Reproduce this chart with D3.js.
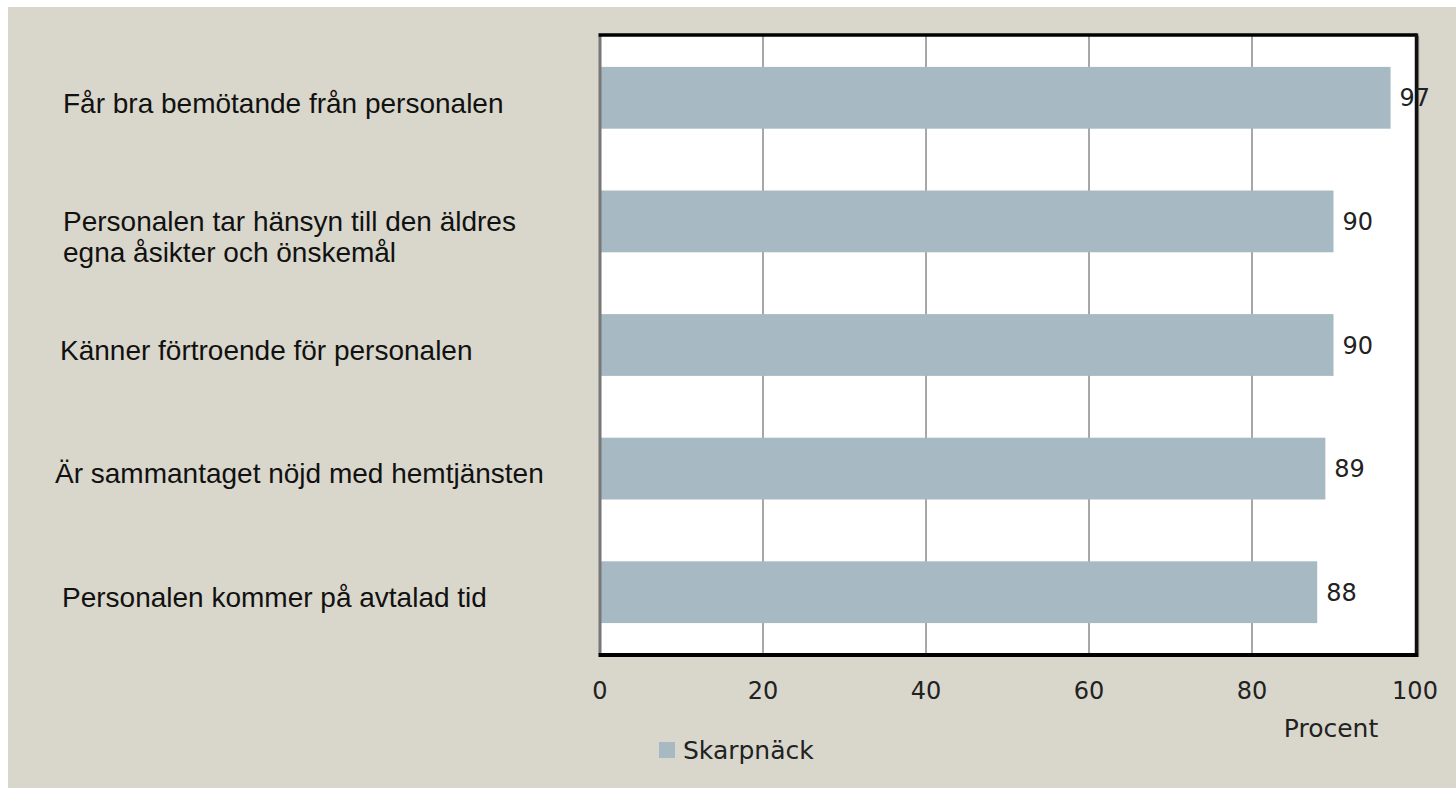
<!DOCTYPE html>
<html>
<head>
<meta charset="utf-8">
<script src="https://cdn.jsdelivr.net/npm/d3@7"></script>
<style>
  html, body { margin: 0; padding: 0; background: #ffffff; }
  svg { display: block; }
</style>
</head>
<body>
<div id="app"></div>
<script>
const categories = [
  ["Får bra bemötande från personalen"],
  ["Personalen tar hänsyn till den äldres", "egna åsikter och önskemål"],
  ["Känner förtroende för personalen"],
  ["Är sammantaget nöjd med hemtjänsten"],
  ["Personalen kommer på avtalad tid"]
];
const values = [97, 90, 90, 89, 88];
const ticks = [0, 20, 40, 60, 80, 100];
const seriesName = "Skarpnäck";
const axisTitle = "Procent";

const full = { width: 1456, height: 788 };
const plot = { left: 600, right: 1415, top: 36, bottom: 654 };
// small per-label indents seen in the original
const labelX = [63, 63, 60, 55, 62];

const colors = {
  bg: "#d9d7cc",
  bar: "#a7bac4",
  grid: "#8a8a8a",
  text: "#111111",
  num: "#222222"
};

const svg = d3.select("#app")
  .append("svg")
  .attr("width", full.width)
  .attr("height", full.height);

// beige panel with a thin white margin on top and left
svg.append("rect")
  .attr("x", 8).attr("y", 7)
  .attr("width", full.width - 8).attr("height", full.height - 7)
  .attr("fill", colors.bg);

const x = d3.scaleLinear()
  .domain([0, 100])
  .range([plot.left, plot.right]);

const y = d3.scaleBand()
  .domain(d3.range(categories.length))
  .range([plot.top, plot.bottom])
  .paddingInner(0.5)
  .paddingOuter(0.25);

// plot background
svg.append("rect")
  .attr("x", plot.left).attr("y", plot.top)
  .attr("width", plot.right - plot.left)
  .attr("height", plot.bottom - plot.top)
  .attr("fill", "#ffffff");

// vertical grid
svg.append("g")
  .selectAll("line")
  .data(ticks.slice(1, -1))
  .join("line")
  .attr("x1", d => x(d)).attr("x2", d => x(d))
  .attr("y1", plot.top).attr("y2", plot.bottom)
  .attr("stroke", colors.grid)
  .attr("stroke-width", 1.5);

// bars
svg.append("g")
  .selectAll("rect")
  .data(values)
  .join("rect")
  .attr("x", x(0))
  .attr("y", (d, i) => y(i))
  .attr("width", d => x(d) - x(0))
  .attr("height", y.bandwidth())
  .attr("fill", colors.bar);

// frame: grey left, black top/right/bottom
svg.append("line")
  .attr("x1", plot.left).attr("x2", plot.left)
  .attr("y1", plot.top).attr("y2", plot.bottom)
  .attr("stroke", "#777").attr("stroke-width", 3);
svg.append("line")
  .attr("x1", plot.left - 1.5).attr("x2", plot.right + 2)
  .attr("y1", plot.top - 1).attr("y2", plot.top - 1)
  .attr("stroke", "#000").attr("stroke-width", 3.5);
svg.append("line")
  .attr("x1", plot.right + 1.5).attr("x2", plot.right + 1.5)
  .attr("y1", plot.top - 2.5).attr("y2", plot.bottom + 3)
  .attr("stroke", "#111").attr("stroke-width", 3.5);
svg.append("line")
  .attr("x1", plot.right + 3.6).attr("x2", plot.right + 3.6)
  .attr("y1", plot.top).attr("y2", plot.bottom + 3)
  .attr("stroke", "#666").attr("stroke-width", 1);
svg.append("line")
  .attr("x1", plot.left - 1.5).attr("x2", plot.right + 3)
  .attr("y1", plot.bottom + 1).attr("y2", plot.bottom + 1)
  .attr("stroke", "#000").attr("stroke-width", 4);

// value labels
svg.append("g")
  .selectAll("text")
  .data(values)
  .join("text")
  .attr("x", d => x(d) + 9)
  .attr("y", (d, i) => y(i) + y.bandwidth() / 2)
  .attr("dy", "0.36em")
  .attr("font-family", "DejaVu Sans, sans-serif")
  .attr("font-size", 24)
  .attr("fill", colors.num)
  .text(d => d);

// category labels
const cat = svg.append("g")
  .selectAll("text")
  .data(categories)
  .join("text")
  .attr("x", (d, i) => labelX[i])
  .attr("y", (d, i) => y(i) + y.bandwidth() / 2 + (d.length === 1 ? 5 : 0))
  .attr("font-family", "Liberation Sans, Arial, sans-serif")
  .attr("font-size", 28)
  .attr("fill", colors.text);
cat.selectAll("tspan")
  .data((d, i) => d.map(line => ({ line, i })))
  .join("tspan")
  .attr("x", d => labelX[d.i])
  .attr("dy", (d, j) => j === 0 ? "0.35em" : 31)
  .text(d => d.line);

// x tick labels
svg.append("g")
  .selectAll("text")
  .data(ticks)
  .join("text")
  .attr("x", d => x(d))
  .attr("y", 690)
  .attr("dy", "0.36em")
  .attr("text-anchor", "middle")
  .attr("font-family", "DejaVu Sans, sans-serif")
  .attr("font-size", 24)
  .attr("fill", colors.num)
  .text(d => d);

// axis title
svg.append("text")
  .attr("x", 1331).attr("y", 728)
  .attr("dy", "0.36em")
  .attr("text-anchor", "middle")
  .attr("font-family", "DejaVu Sans, sans-serif")
  .attr("font-size", 25)
  .attr("fill", colors.num)
  .text(axisTitle);

// legend
const legend = svg.append("g").attr("transform", "translate(659,742)");
legend.append("rect")
  .attr("width", 16).attr("height", 16)
  .attr("fill", colors.bar);
legend.append("text")
  .attr("x", 24).attr("y", 8)
  .attr("dy", "0.36em")
  .attr("font-family", "DejaVu Sans, sans-serif")
  .attr("font-size", 25)
  .attr("fill", colors.num)
  .text(seriesName);
</script>
</body>
</html>
